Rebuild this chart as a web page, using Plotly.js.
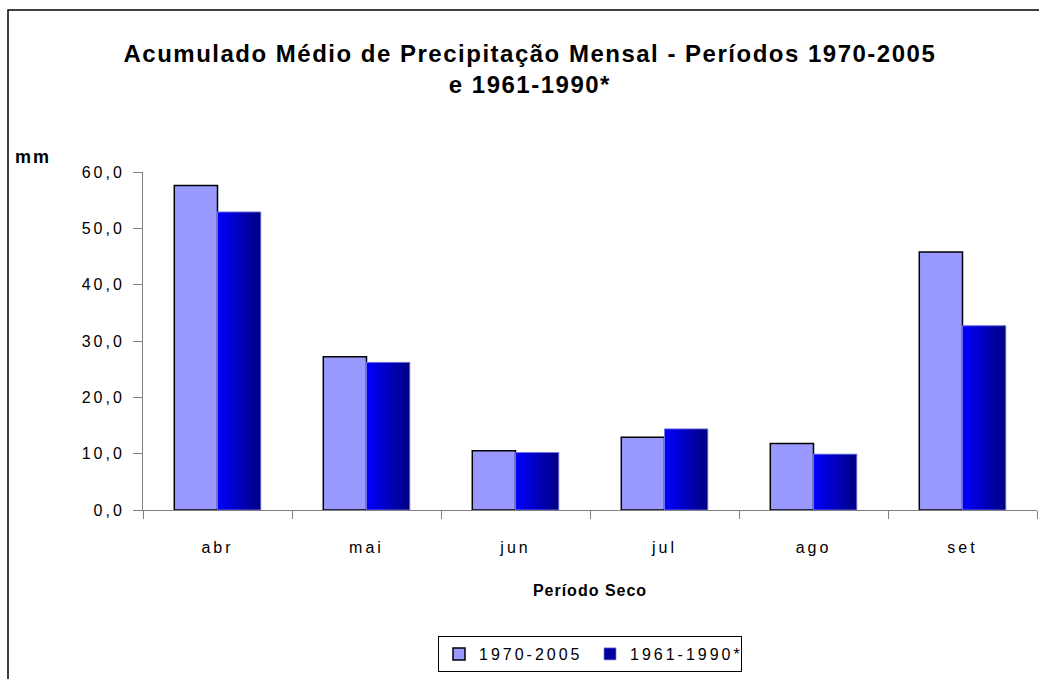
<!DOCTYPE html>
<html>
<head>
<meta charset="utf-8">
<script src="https://cdn.plot.ly/plotly-3.0.1.min.js"></script>
<style>
html,body{margin:0;padding:0;background:#fff;}
#chart{width:1039px;height:679px;}
#chart .xtick text, #chart .ytick text, #chart .legendtext { letter-spacing: 3px; }
#chart .gtitle { letter-spacing: 1.5px; }
#chart .xtitle { letter-spacing: 1px; }
#chart .annotation-text { letter-spacing: 2px; }
</style>
</head>
<body>
<div id="chart"></div>
<script>
// Data
const months = ["abr", "mai", "jun", "jul", "ago", "set"];
const serie1970_2005 = [57.6, 27.2, 10.5, 12.9, 11.8, 45.8];
const serie1961_1990 = [52.9, 26.2, 10.2, 14.4, 9.9, 32.7];
const seriesNames = ["1970-2005", "1961-1990*"];
const yTicks = [0, 10, 20, 30, 40, 50, 60];

const FONT = "Liberation Sans, Arial, sans-serif";
const W = 0.29; // bar width in category units

const traces = [
  {
    type: "bar", name: seriesNames[0], x: months, y: serie1970_2005,
    width: W, offset: -W,
    marker: {color: "#9999ff", line: {color: "#000000", width: 1.5}},
    xaxis: "x", yaxis: "y"
  },
  {
    type: "bar", name: seriesNames[1], x: months, y: serie1961_1990,
    width: W, offset: 0,
    marker: {color: "#0000a0", line: {color: "#7b7bd8", width: 0.7}},
    xaxis: "x", yaxis: "y"
  }
];

// horizontal gradient overlays for the second series (bright blue -> navy)
serie1961_1990.forEach((v, i) => {
  traces.push({
    type: "scatter", mode: "lines", showlegend: false, hoverinfo: "skip",
    x: [i, i, i + W, i + W, i], y: [0, v, v, 0, 0],
    fill: "toself",
    fillgradient: {type: "horizontal", colorscale: [[0, "#0000ff"], [1, "#000080"]]},
    line: {color: "#8c8cee", width: 0.7},
    xaxis: "x2", yaxis: "y"
  });
});

const layout = {
  width: 1039, height: 679,
  paper_bgcolor: "#ffffff", plot_bgcolor: "#ffffff",
  separators: ",.",
  font: {family: FONT, size: 16, color: "#000000"},
  margin: {l: 143, r: 2, t: 172, b: 169},
  title: {
    text: "Acumulado Médio de Precipitação Mensal - Períodos 1970-2005<br>e 1961-1990*",
    font: {family: FONT, size: 24, color: "#000000", weight: "bold"},
    x: 0.51, xref: "container", xanchor: "center",
    y: 1 - 62 / 679, yref: "container", yanchor: "top"
  },
  xaxis: {
    type: "category", range: [-0.5, 5.5],
    tickson: "boundaries", ticks: "outside", ticklen: 8, tickcolor: "#808080", tickwidth: 1,
    showline: true, linecolor: "#808080", linewidth: 1,
    showgrid: false, zeroline: false,
    tickfont: {family: FONT, size: 16, color: "#000"},
    ticklabelstandoff: 23,
    title: {text: "Período Seco", font: {family: FONT, size: 16, weight: "bold"}, standoff: 29}
  },
  xaxis2: {
    overlaying: "x", range: [-0.5, 5.5], visible: false, showgrid: false, zeroline: false
  },
  yaxis: {
    range: [0, 60], tickvals: yTicks, tickformat: ".1f",
    ticks: "outside", ticklen: 9, tickcolor: "#808080", tickwidth: 1,
    showline: true, linecolor: "#808080", linewidth: 1,
    showgrid: false, zeroline: false,
    tickfont: {family: FONT, size: 16, color: "#000"},
    ticklabelstandoff: 5
  },
  barmode: "overlay",
  showlegend: true,
  legend: {
    orientation: "h", x: 0.5, xanchor: "center", y: (510 - 636) / 338, yanchor: "top",
    bordercolor: "#000000", borderwidth: 1, bgcolor: "#ffffff",
    font: {family: FONT, size: 16, color: "#000"},
    traceorder: "normal", itemwidth: 30,
    entrywidth: 106, entrywidthmode: "pixels"
  },
  annotations: [
    {text: "<b>mm</b>", xref: "paper", yref: "paper",
     x: (15 - 143) / 894, xanchor: "left", y: (510 - 157) / 338, yanchor: "middle",
     showarrow: false, font: {family: FONT, size: 18, color: "#000"}}
  ],
  shapes: [
    {type: "rect", xref: "paper", yref: "paper",
     x0: (8 - 143) / 894, x1: 1.2, y0: (510 - 10) / 338, y1: -0.8,
     line: {color: "#000000", width: 1.5}, fillcolor: "rgba(0,0,0,0)", layer: "above"}
  ]
};

Plotly.newPlot("chart", traces, layout, {staticPlot: true, displayModeBar: false});
</script>
</body>
</html>
